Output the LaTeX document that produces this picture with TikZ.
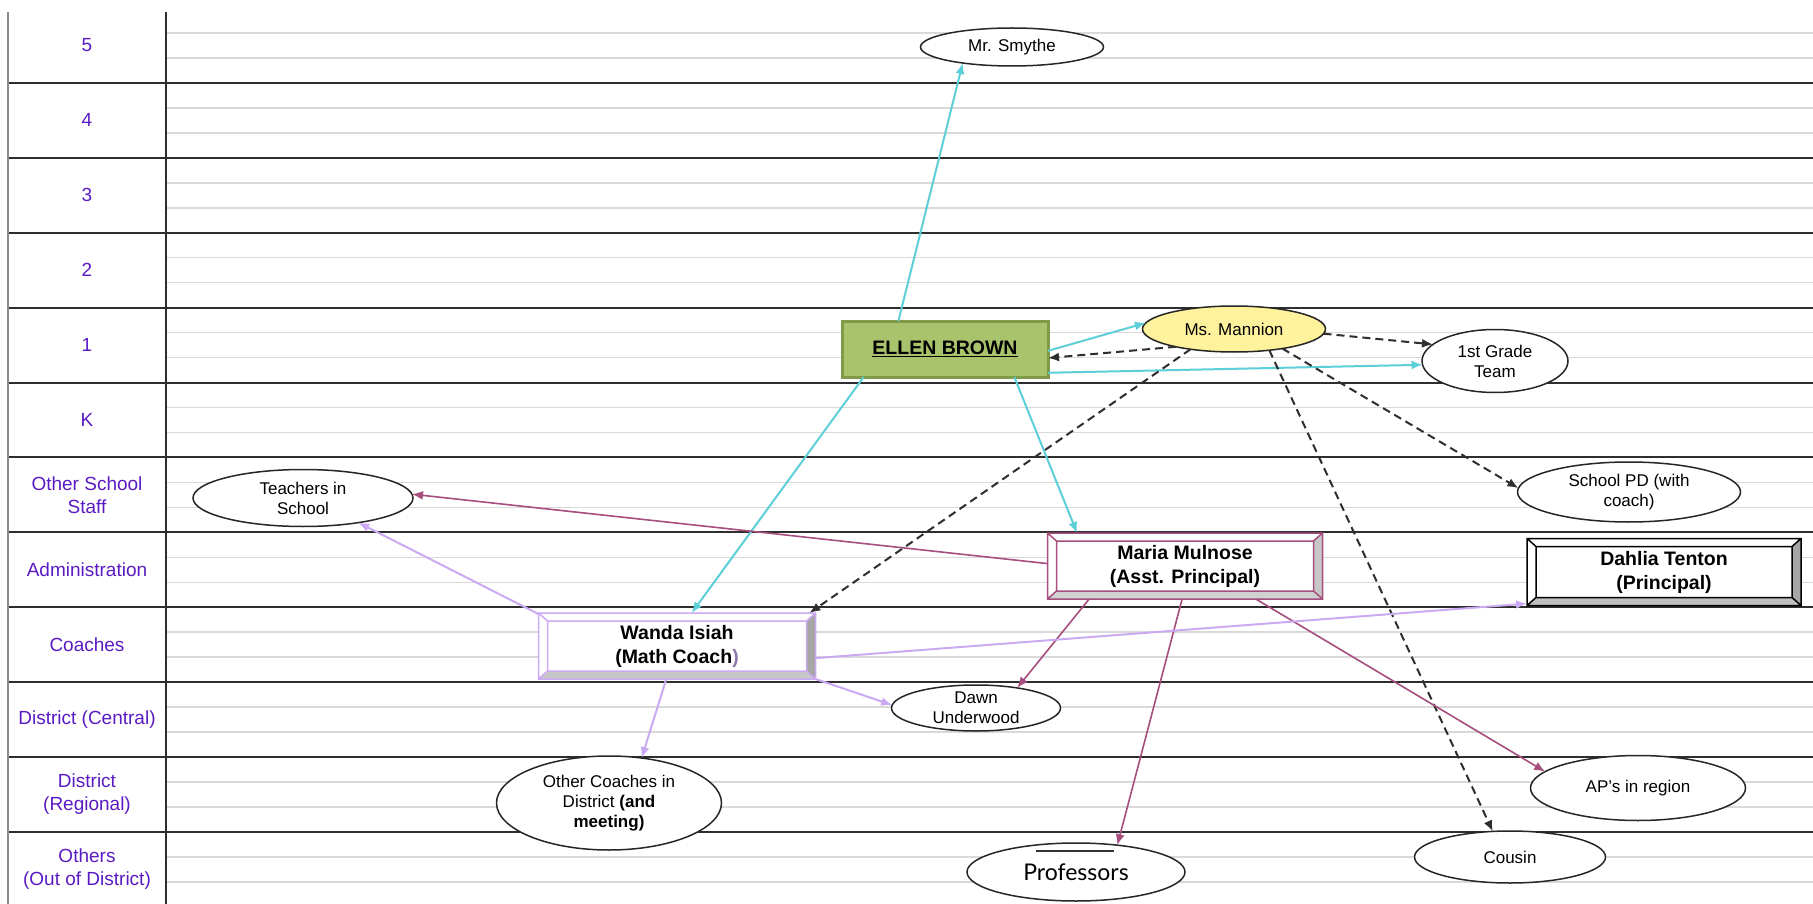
\documentclass[tikz,border=0pt]{standalone}
\usepackage{fontspec}
\setmainfont{Liberation Sans}
\newfontfamily\profont{Lato}
\usetikzlibrary{arrows.meta,shapes.geometric}

\definecolor{rowlabel}{HTML}{5A1BC4}
\definecolor{gridlight}{HTML}{D9D9D9}
\definecolor{griddark}{HTML}{2E2E2E}
\definecolor{cyanline}{HTML}{5CCFD8}
\definecolor{mauveline}{HTML}{A64E7D}
\definecolor{lavline}{HTML}{CBAAF3}
\definecolor{ellenfill}{HTML}{A9C36C}
\definecolor{ellenline}{HTML}{7F9B48}
\definecolor{mannionfill}{HTML}{FFF29C}

\tikzset{
  person/.style={ellipse,draw=black!85,line width=1.5pt,fill=white,inner sep=0pt,outer sep=0pt,align=center,font=\fontsize{17}{20}\selectfont},
  rolebox/.style={rectangle,fill=white,inner sep=0pt,outer sep=0pt,align=center,font=\fontsize{19.5}{24}\selectfont\bfseries},
  rowname/.style={align=center,text=rowlabel,font=\fontsize{19}{23}\selectfont},
  linkhead/.style={-{Latex[length=11pt,width=9pt]}},
  ellenlink/.style={linkhead,draw=cyanline,line width=2pt},
  mannionlink/.style={linkhead,draw=griddark,line width=2pt,dash pattern=on 8pt off 5pt},
  marialink/.style={linkhead,draw=mauveline,line width=1.6pt},
  wandalink/.style={linkhead,draw=lavline,line width=2pt},
}

\newcommand{\bevelframe}[4]{%
  \fill[#3] (#1.north east) -- (#1.south east) -- ([shift={(-9pt,8pt)}]#1.south east) -- ([shift={(-9pt,-8pt)}]#1.north east) -- cycle;
  \fill[#4] (#1.south west) -- (#1.south east) -- ([shift={(-9pt,8pt)}]#1.south east) -- ([shift={(9pt,8pt)}]#1.south west) -- cycle;
  \draw[#2,line width=1.5pt] (#1.south west) rectangle (#1.north east)
    ([shift={(9pt,8pt)}]#1.south west) rectangle ([shift={(-9pt,-8pt)}]#1.north east)
    (#1.north west) -- ([shift={(9pt,-8pt)}]#1.north west)
    (#1.north east) -- ([shift={(-9pt,-8pt)}]#1.north east)
    (#1.south west) -- ([shift={(9pt,8pt)}]#1.south west)
    (#1.south east) -- ([shift={(-9pt,8pt)}]#1.south east);
}

\begin{document}
\begin{tikzpicture}[x=1pt,y=-1pt]
\useasboundingbox (0,0) rectangle (1813,904);
\fill[white] (0,0) rectangle (1813,904);

\foreach \k in {0,...,11} {
  \draw[gridlight,line width=1.5pt] (166,{33+74.9*\k}) -- (1813,{33+74.9*\k});
  \draw[gridlight,line width=1.5pt] (166,{58+74.9*\k}) -- (1813,{58+74.9*\k});
}
\foreach \k in {1,...,11}
  \draw[griddark,line width=2pt] (8,{8+74.9*\k}) -- (1813,{8+74.9*\k});
\draw[black!45,line width=1.5pt] (8,12) -- (8,904);
\draw[griddark,line width=2pt] (166,12) -- (166,904);

\foreach \lab [count=\k from 0] in {5,4,3,2,1,K,{Other School\\Staff},Administration,Coaches,{District (Central)},{District\\(Regional)},{Others\\(Out of District)}}
  \node[rowname] (lab\k) at (87,{45.45+74.9*\k}) {\lab};

\node[person,minimum width=183pt,minimum height=38pt] (smythe) at (1012,47) {Mr. Smythe};
\node[rectangle,draw=ellenline,fill=ellenfill,line width=3pt,minimum width=206pt,minimum height=56pt,inner sep=0pt,outer sep=0pt,font=\fontsize{19.5}{24}\selectfont\bfseries] (ellen) at (945,349) {\underline{ELLEN BROWN}};
\node[person,fill=mannionfill,minimum width=183pt,minimum height=46pt] (mannion) at (1234,329) {Ms. Mannion};
\node[person,minimum width=146pt,minimum height=63pt] (grade) at (1495,361) {1st Grade\\Team};
\node[person,minimum width=223pt,minimum height=60pt] (schoolpd) at (1629,492) {School PD (with\\coach)};
\node[person,minimum width=220pt,minimum height=57pt] (teachers) at (303,498) {Teachers in\\School};
\node[rolebox,minimum width=275pt,minimum height=66pt] (maria) at (1185,566) {Maria Mulnose\\(Asst. Principal)};
\bevelframe{maria}{mauveline}{black!22}{black!18}
\node[rolebox,minimum width=274pt,minimum height=67pt] (dahlia) at (1664,572) {Dahlia Tenton\\(Principal)};
\bevelframe{dahlia}{black}{black!35}{black!25}
\node[rolebox,minimum width=277pt,minimum height=66pt] (wanda) at (677,646) {Wanda Isiah\\(Math Coach\textcolor{lavline!70!black}{)}};
\bevelframe{wanda}{lavline}{black!35}{black!22}
\node[person,minimum width=169pt,minimum height=46pt] (dawn) at (976,708) {Dawn\\Underwood};
\node[person,minimum width=225pt,minimum height=94pt] (coaches) at (609,803) {Other Coaches in\\District \textbf{(and}\\\textbf{meeting)}};
\node[person,minimum width=215pt,minimum height=65pt] (aps) at (1638,788) {AP's in region};
\node[person,minimum width=191pt,minimum height=52pt] (cousin) at (1510,857) {Cousin};
\node[person,minimum width=218pt,minimum height=58pt,font=\fontsize{23}{26}\profont] (profs) at (1076,872) {Professors};
\draw[black!80,line width=1.5pt] (1036,851) -- (1114,851);

\draw[ellenlink] (ellen.149) -- (smythe.198);
\draw[ellenlink] (ellen.-1) -- (mannion.176);
\draw[mannionlink] (mannion.197) -- (ellen.-5);
\draw[ellenlink] (ellen.-13) -- (grade.183);
\draw[ellenlink] (ellen.199) -- (wanda.66);
\draw[ellenlink] (ellen.-22) -- (maria.163);
\draw[mannionlink] (mannion.-3) -- (grade.165);
\draw[mannionlink] (mannion.205) -- (wanda.14);
\draw[mannionlink] (mannion.-22) -- (schoolpd.178);
\draw[mannionlink] (mannion.-31) -- (cousin.124);
\draw[marialink] (maria.179) -- (teachers.2);
\draw[marialink] (maria.199) -- (dawn.26);
\draw[marialink] (maria.265) -- (profs.33);
\draw[marialink] (maria.-25) -- (aps.170);
\draw[wandalink] (wanda.167) -- (teachers.-24);
\draw[wandalink] (wanda.-5) -- (dahlia.193);
\draw[wandalink] (wanda.south east) -- (dawn.178);
\draw[wandalink] (wanda.252) -- (coaches.54);
\end{tikzpicture}
\end{document}
